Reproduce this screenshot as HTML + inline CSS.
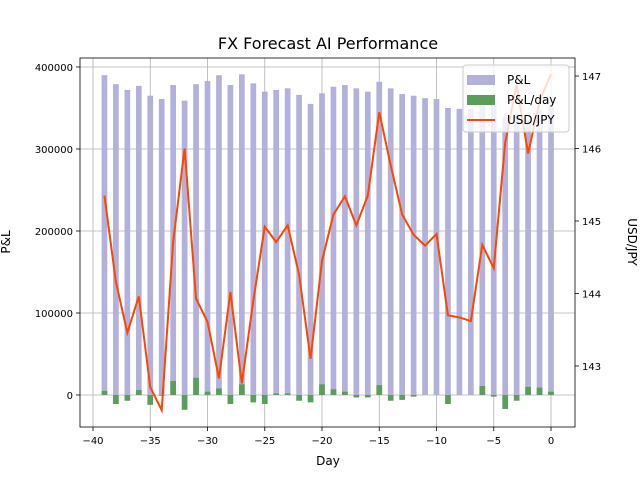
<!DOCTYPE html>
<html><head><meta charset="utf-8"><style>
body{margin:0;background:#fff;}
svg{display:block;font-family:"DejaVu Sans","Liberation Sans",sans-serif;}
</style></head><body>
<svg id="chart" width="640" height="480" viewBox="0 0 640 480">
<rect width="640" height="480" fill="#fff"/>
<text x="328" y="49" text-anchor="middle" font-size="16">FX Forecast AI Performance</text>
<g id="grid"></g><g id="bars"></g><g id="line"></g><g id="axes"></g><g id="legend"></g>
</svg>
<script>
const days = [-39,-38,-37,-36,-35,-34,-33,-32,-31,-30,-29,-28,-27,-26,-25,-24,-23,-22,-21,-20,-19,-18,-17,-16,-15,-14,-13,-12,-11,-10,-9,-8,-7,-6,-5,-4,-3,-2,-1,0];
const pnl = [390000,379000,372000,377000,365000,361000,378000,359000,379000,383000,390000,378000,391000,380000,370000,372000,374000,366000,355000,368000,376000,378000,374000,370000,382000,374000,367000,365000,362000,361000,350000,349000,349000,360000,358000,339000,342000,336000,348000,351000];
const pnlDay = [5000,-11000,-7000,6000,-12000,-1000,17000,-18000,21000,4000,8000,-11000,13000,-9000,-11000,2000,2000,-7000,-9000,13000,7000,4000,-3000,-3000,12000,-7000,-6000,-2000,0,0,-11000,0,0,11000,-2000,-17000,-7000,10000,9000,4000];
const usdjpy = [145.35,144.16,143.46,143.96,142.71,142.39,144.71,146.0,143.93,143.61,142.83,144.02,142.76,143.9,144.92,144.71,144.94,144.26,143.1,144.45,145.09,145.34,144.94,145.35,146.5,145.77,145.09,144.81,144.66,144.82,143.70,143.67,143.62,144.67,144.35,146.08,146.88,145.93,146.65,147.03];
const xTicks = [-40,-35,-30,-25,-20,-15,-10,-5,0];
const yTicks = [0,100000,200000,300000,400000];
const y2Ticks = [143,144,145,146,147];

const NS="http://www.w3.org/2000/svg";
const L=80,R=575,T=58,B=427;
const xs=d=>93+(d+40)*(551-93)/40;
const ys=v=>395-v*(395-67)/400000;
const y2=v=>76+(147-v)*72.5;
function mk(p,tag,attrs){const e=document.createElementNS(NS,tag);for(const k in attrs)e.setAttribute(k,attrs[k]);p.appendChild(e);return e;}
const grid=document.getElementById('grid'),bars=document.getElementById('bars'),line=document.getElementById('line'),axes=document.getElementById('axes'),leg=document.getElementById('legend');
xTicks.forEach(t=>{const x=xs(t);
 const g=mk(grid,'line',{x1:x,x2:x,y1:T,y2:B,stroke:'#b0b0b0','stroke-width':0.8});
 
 
 mk(axes,'line',{x1:x,x2:x,y1:B,y2:B+4,stroke:'#000','stroke-width':0.8});
 const tx=mk(axes,'text',{x:x,y:B+17,'text-anchor':'middle','font-size':10});tx.textContent=String(t).replace('-','\u2212');
 
 
});
yTicks.forEach(t=>{const y=ys(t);
 const g=mk(grid,'line',{x1:L,x2:R,y1:y,y2:y,stroke:'#b0b0b0','stroke-width':0.8});
 
 
 mk(axes,'line',{x1:L-4,x2:L,y1:y,y2:y,stroke:'#000','stroke-width':0.8});
 const tx=mk(axes,'text',{x:L-7,y:y+4,'text-anchor':'end','font-size':10});tx.textContent=t;
 
 
});
y2Ticks.forEach(t=>{const y=y2(t);
 mk(axes,'line',{x1:R,x2:R+4,y1:y,y2:y,stroke:'#000','stroke-width':0.8});
 const tx=mk(axes,'text',{x:R+7,y:y+4,'font-size':10});tx.textContent=t;
 
 
});
const bw=5.7;
days.forEach((d,i)=>{const x=xs(d)-bw/2;
 const b=mk(bars,'rect',{x:x,y:ys(pnl[i]),width:bw,height:ys(0)-ys(pnl[i]),fill:'#b1b1dc'});
 
 
});
days.forEach((d,i)=>{const x=xs(d)-bw/2;const v=pnlDay[i];
 const b=mk(bars,'rect',{x:x,y:Math.min(ys(v),ys(0)),width:bw,height:Math.abs(ys(v)-ys(0)),fill:'#5a9e5a'});
 
 
});
const pl=mk(line,'polyline',{points:days.map((d,i)=>xs(d)+','+y2(usdjpy[i])).join(' '),fill:'none',stroke:'#ff4500','stroke-width':2});


const fr=mk(axes,'rect',{x:L,y:T,width:R-L,height:B-T,fill:'none',stroke:'#000','stroke-width':0.8});


[['Day',328,465,0,'x-axis-title'],['P&L',10,242,-90,'y-axis-title'],['USD/JPY',628,242,90,'y2-axis-title']].forEach(a=>{
 const t=mk(axes,'text',{x:a[1],y:a[2],'text-anchor':'middle','font-size':12,transform:a[3]?`rotate(${a[3]} ${a[1]} ${a[2]})`:''});t.textContent=a[0];
 
 
});
const lb=mk(leg,'rect',{x:463,y:65,width:106,height:67,rx:3,fill:'#fff','fill-opacity':0.8,stroke:'#ccc'});


[['P&L','#b1b1dc','bar'],['P&L/day','#5a9e5a','bar'],['USD/JPY','#ff4500','line']].forEach((e,i)=>{
 const y=80+i*20;
 if(e[2]==='bar') mk(leg,'rect',{x:467,y:y-5,width:28,height:10,fill:e[1]});
 else mk(leg,'line',{x1:467,x2:495,y1:y,y2:y,stroke:e[1],'stroke-width':2});
 const t=mk(leg,'text',{x:507,y:y+4,'font-size':12});t.textContent=e[0];
 
 
});
</script>
</body></html>
